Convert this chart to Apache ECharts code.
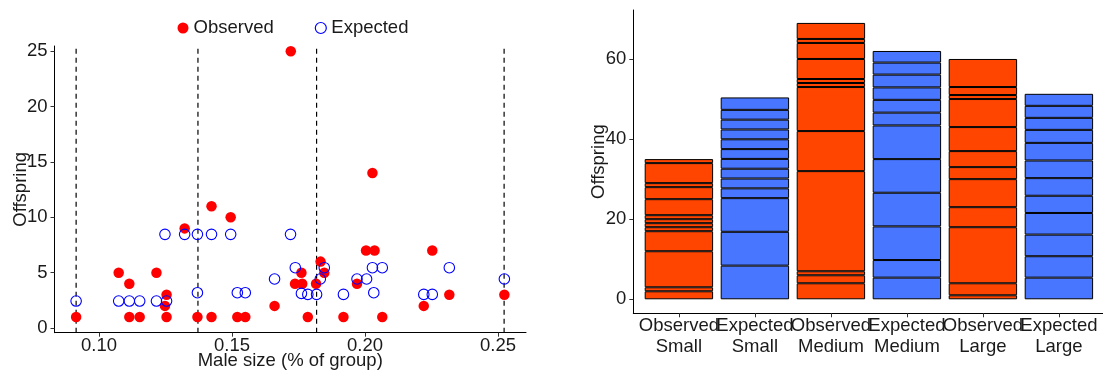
<!DOCTYPE html>
<html><head><meta charset="utf-8">
<script src="https://cdn.jsdelivr.net/npm/echarts@6/dist/echarts.min.js"></script>
<style>html,body{margin:0;padding:0;background:#fff}#c{width:1103px;height:372px}</style>
</head><body><div id="c"></div>
<script>
// ---- Left panel: scatter data ----
const observedX = [0.0914,0.1074,0.1114,0.1114,0.1153,0.1216,0.1254,0.1248,0.1254,0.1322,0.1370,0.1423,0.1423,0.1495,0.1520,0.1550,
                   0.1721,0.2028,0.2004,0.2036,0.2253,0.1833,0.1847,0.1761,0.1737,0.1764,0.1816,0.1970,0.1660,0.2221,0.2317,0.2524,0.1785,0.1919,0.2065];
const observedY = [1,5,4,1,1,5,3,2,1,9,1,11,1,10,1,1,
                   25,14,7,7,7,6,5,5,4,4,4,4,2,2,3,3,1,1,1];
const expectedX = [0.0914,0.1074,0.1114,0.1153,0.1216,0.1254,0.1248,0.1322,0.1370,0.1423,0.1495,0.1370,0.1520,0.1550,
                   0.1720,0.1660,0.1738,0.1847,0.1832,0.1761,0.1785,0.1818,0.1919,0.1970,0.2006,0.2028,0.2065,0.2033,0.2221,0.2253,0.2317,0.2524];
const expectedY = [2.44,2.44,2.44,2.44,2.44,2.44,8.46,8.46,8.46,8.46,8.46,3.19,3.19,3.19,
                   8.46,4.43,5.45,5.45,4.43,3.13,3.04,3.04,3.04,4.43,4.43,5.45,5.45,3.19,3.04,3.04,5.45,4.43];
const groupBreaks = [0.0914,0.1372,0.1818,0.2523];
const sizeTicks = [0.10,0.15,0.20,0.25];
const offspringTicks = [0,5,10,15,20,25];

// ---- Right panel: stacked bar segments (bottom to top) ----
const barCategories = ['Observed\nSmall','Expected\nSmall','Observed\nMedium','Expected\nMedium','Observed\nLarge','Expected\nLarge'];
const segObservedSmall  = [2,1,9,5,1,1,1,1,4,3,1,5,1];
const segExpectedSmall  = [8.4,8.45,8.4,2.45,2.45,2.45,2.45,2.45,2.45,2.45,2.45,2.45,3.1];
const segObservedMedium = [4,2,1,25,10,11,1,1,5,4,1,4];
const segExpectedMedium = [5.4,4.4,8.4,8.4,8.4,8.4,3.2,3.2,3.1,3.2,3.0,2.9];
const segObservedLarge  = [1,3,14,5,7,3,4,6,7,1,2,7];
const segExpectedLarge  = [5.4,5.35,5.4,5.4,4.3,4.4,4.4,4.4,3.25,3.0,3.0,3.0];
const barTicks = [0,20,40,60];

const FONT = 'Liberation Sans, Arial, sans-serif';
const FS = 18.5;
const TXT = '#1a1a1a';
const segs = [segObservedSmall,segExpectedSmall,segObservedMedium,segExpectedMedium,segObservedLarge,segExpectedLarge];
const segColors = ['#FF4500','#4876FF','#FF4500','#4876FF','#FF4500','#4876FF'];
const maxSeg = Math.max(...segs.map(s=>s.length));

const barSeries = [];
for (let k=0;k<maxSeg;k++){
  barSeries.push({
    type:'bar', xAxisIndex:2, yAxisIndex:2, stack:'total', barWidth:68.4,
    silent:true,
    data: segs.map((s,i)=> s[k]==null ? '-' : {value:s[k], itemStyle:{color:segColors[i], borderColor:'#000', borderWidth:1}})
  });
}

const breakSeries = groupBreaks.map(v=>({
  type:'line', xAxisIndex:0, yAxisIndex:0, silent:true, symbol:'none',
  lineStyle:{color:'#000', type:[5,4], width:1.2},
  data:[[v,-0.42],[v,25.47]], z:1
}));

const axisBase = {
  axisLine:{show:true, onZero:false, lineStyle:{color:'#000', width:1}},
  axisTick:{show:true, length:4, inside:false, lineStyle:{color:'#333', width:1}},
  splitLine:{show:false},
  nameMoveOverlap:false,
  axisLabel:{fontSize:FS, color:TXT, fontFamily:FONT},
  nameTextStyle:{fontSize:FS, color:TXT, fontFamily:FONT}
};
const noAxis = {show:true, axisLine:{show:false, onZero:false}, axisTick:{show:false}, axisLabel:{show:false}, splitLine:{show:false}};

const option = {
  animation:false,
  backgroundColor:'#fff',
  legend:{
    left:177.5, top:18.5, padding:0, itemWidth:11, itemHeight:11, itemGap:41,
    textStyle:{fontSize:FS, color:TXT, fontFamily:FONT},
    data:[
      {name:'Observed', icon:'circle', itemStyle:{color:'#ff0000', borderWidth:0}},
      {name:'Expected', icon:'circle', itemStyle:{color:'#fff', borderColor:'#0000ff', borderWidth:1.2}}
    ]
  },
  grid:[
    {left:54.5, top:46, width:471.5, height:286.7, containLabel:false, outerBoundsMode:'none'},
    {left:633.3, top:10, width:471, height:303.3, containLabel:false, outerBoundsMode:'none'},
    {left:640.9, top:10, width:456, height:303.3, containLabel:false, outerBoundsMode:'none'}
  ],
  xAxis:[
    Object.assign({}, axisBase, {
      type:'value', gridIndex:0, min:0.08327, max:0.26053,
      name:'Male size (% of group)', nameLocation:'middle', nameGap:19,
      axisLabel:Object.assign({}, axisBase.axisLabel, {margin:4, customValues:sizeTicks, formatter:v=>v.toFixed(2)}),
      axisTick:Object.assign({}, axisBase.axisTick, {customValues:sizeTicks})
    }),
    Object.assign({}, axisBase, {
      type:'value', gridIndex:1, min:0.4, max:6.6,
      axisTick:{show:false}, axisLabel:{show:false}
    }),
    Object.assign({}, axisBase, {
      type:'category', gridIndex:2, data:barCategories, boundaryGap:true,
      axisLine:{show:false, onZero:false},
      axisTick:Object.assign({}, axisBase.axisTick, {alignWithLabel:true}),
      axisLabel:Object.assign({}, axisBase.axisLabel, {margin:2, lineHeight:21, interval:0})
    })
  ],
  yAxis:[
    Object.assign({}, axisBase, {
      type:'value', gridIndex:0, min:-0.42, max:25.47,
      name:'Offspring', nameLocation:'middle', nameGap:24, nameRotate:90,
      axisLabel:Object.assign({}, axisBase.axisLabel, {margin:7, customValues:offspringTicks}),
      axisTick:Object.assign({}, axisBase.axisTick, {customValues:offspringTicks})
    }),
    Object.assign({}, axisBase, {
      type:'value', gridIndex:1, min:-3.5, max:72.23,
      name:'Offspring', nameLocation:'middle', nameGap:25, nameRotate:90,
      axisLabel:Object.assign({}, axisBase.axisLabel, {margin:7, customValues:barTicks}),
      axisTick:Object.assign({}, axisBase.axisTick, {customValues:barTicks})
    }),
    Object.assign({}, noAxis, {type:'value', gridIndex:2, min:-3.5, max:72.23})
  ],
  series:[
    ...breakSeries,
    {
      name:'Observed', type:'scatter', xAxisIndex:0, yAxisIndex:0,
      symbol:'circle', symbolSize:10.5, z:3,
      itemStyle:{color:'#ff0000', opacity:1},
      data: observedX.map((x,i)=>[x, observedY[i]])
    },
    {
      name:'Expected', type:'scatter', xAxisIndex:0, yAxisIndex:0,
      symbol:'circle', symbolSize:10.5, z:4,
      itemStyle:{color:'rgba(0,0,0,0)', borderColor:'#0000ff', borderWidth:1.1, opacity:1},
      data: expectedX.map((x,i)=>[x, expectedY[i]])
    },
    ...barSeries
  ]
};
const chart = echarts.init(document.getElementById('c'), null, {renderer:'canvas'});
chart.setOption(option);
</script>
</body></html>
